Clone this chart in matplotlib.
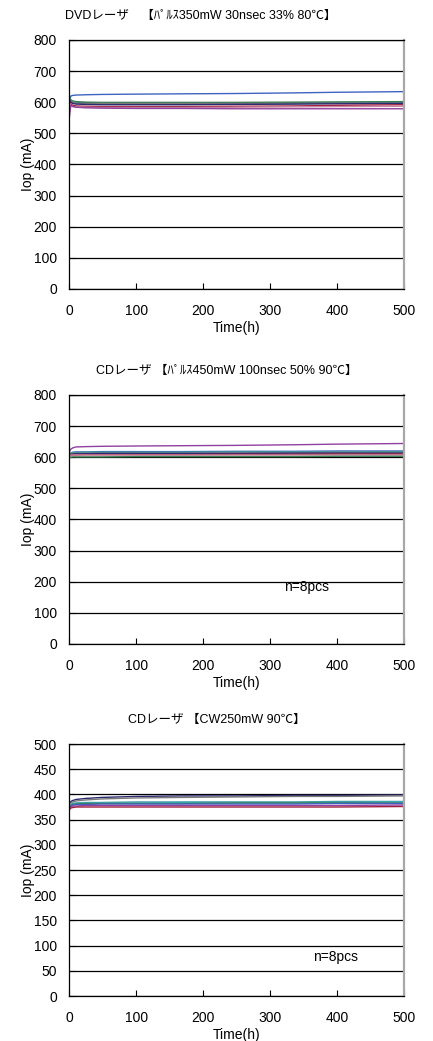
import numpy as np
import matplotlib
matplotlib.use("Agg")
import matplotlib.pyplot as plt

plt.rcParams['font.family'] = ['Liberation Sans', 'Noto Sans CJK JP', 'DejaVu Sans']

# time points (h)
hours = [0, 2, 5, 10, 24, 48, 100, 168, 250, 336, 400, 500]

# DVD laser, pulse 350mW
dvd_blue   = [605, 620, 622, 623, 624, 625, 626, 627, 628, 630, 632, 634]
dvd_green  = [615, 608, 604, 602, 600, 599, 599, 599, 599, 600, 601, 602]
dvd_teal   = [612, 605, 600, 598, 596, 595, 595, 595, 595, 596, 597, 598]
dvd_gray   = [610, 604, 599, 597, 596, 596, 596, 596, 596, 596, 597, 597]
dvd_navy   = [608, 600, 596, 594, 593, 592, 592, 592, 593, 594, 595, 596]
dvd_maroon = [600, 594, 590, 588, 587, 586, 586, 586, 587, 588, 590, 592]
dvd_pink   = [598, 590, 586, 585, 584, 583, 583, 583, 584, 585, 586, 587]
dvd_purple = [555, 590, 586, 584, 582, 581, 580, 580, 579, 579, 579, 579]

# CD laser, pulse 450mW
cdp_purple = [618, 626, 630, 633, 634, 635, 636, 637, 638, 640, 642, 644]
cdp_blue   = [610, 614, 616, 617, 617, 618, 618, 618, 619, 619, 620, 620]
cdp_teal   = [612, 614, 615, 615, 616, 616, 616, 616, 617, 617, 617, 618]
cdp_gray   = [608, 611, 612, 612, 613, 613, 613, 613, 614, 614, 615, 615]
cdp_navy   = [606, 609, 610, 611, 611, 612, 612, 612, 612, 613, 613, 613]
cdp_maroon = [604, 606, 607, 607, 608, 608, 608, 608, 609, 609, 610, 610]
cdp_pink   = [605, 607, 607, 607, 607, 607, 607, 607, 607, 607, 607, 607]
cdp_green  = [598, 600, 601, 601, 601, 601, 602, 602, 602, 602, 603, 603]

# CD laser, CW 250mW
cw_navy   = [383, 386, 388, 390, 392, 394, 396, 397, 397, 398, 398, 399]
cw_gray   = [380, 383, 385, 387, 389, 391, 393, 394, 395, 396, 396, 397]
cw_teal   = [376, 380, 382, 383, 384, 384, 385, 385, 385, 385, 386, 386]
cw_cyan   = [376, 379, 381, 382, 383, 383, 383, 384, 384, 384, 384, 385]
cw_green  = [375, 378, 380, 381, 382, 382, 382, 382, 383, 383, 383, 383]
cw_blue   = [375, 377, 379, 380, 380, 381, 381, 381, 381, 381, 382, 382]
cw_purple = [372, 375, 377, 377, 378, 378, 378, 378, 378, 378, 378, 379]
cw_maroon = [370, 373, 374, 375, 375, 375, 375, 375, 375, 375, 375, 376]

titles = ["DVDレーザ　【ﾊﾟﾙｽ350mW 30nsec 33% 80℃】",
          "CDレーザ 【ﾊﾟﾙｽ450mW 100nsec 50% 90℃】",
          "CDレーザ 【CW250mW 90℃】"]

col = {'blue': '#3f63c0', 'green': '#3a8050', 'teal': '#3a9a9a', 'gray': '#7a7a7a',
       'navy': '#2a2a70', 'maroon': '#a02040', 'pink': '#c886a0', 'purple': '#9040a0',
       'cyan': '#40b0c0'}

panels = [
    dict(series=[('blue', dvd_blue), ('green', dvd_green), ('teal', dvd_teal), ('gray', dvd_gray),
                 ('navy', dvd_navy), ('maroon', dvd_maroon), ('pink', dvd_pink), ('purple', dvd_purple)],
         ymax=800, ystep=100, pos=[0.1605, 0.7224, 0.7725, 0.2392], title_x=201, note=None),
    dict(series=[('purple', cdp_purple), ('blue', cdp_blue), ('teal', cdp_teal), ('gray', cdp_gray),
                 ('navy', cdp_navy), ('maroon', cdp_maroon), ('pink', cdp_pink), ('green', cdp_green)],
         ymax=800, ystep=100, pos=[0.1605, 0.3814, 0.7725, 0.2392], title_x=227, note=(355, 183)),
    dict(series=[('navy', cw_navy), ('gray', cw_gray), ('teal', cw_teal), ('cyan', cw_cyan),
                 ('green', cw_green), ('blue', cw_blue), ('purple', cw_purple), ('maroon', cw_maroon)],
         ymax=500, ystep=50, pos=[0.1605, 0.0432, 0.7725, 0.2421], title_x=217, note=(398, 78)),
]

fig = plt.figure(figsize=(4.33, 10.41), dpi=100)

for i, p in enumerate(panels):
    ax = fig.add_axes(p['pos'])
    for c, vals in p['series']:
        ax.plot(hours, vals, color=col[c], lw=1.0)
    ax.set_xlim(0, 500)
    ax.set_ylim(0, p['ymax'])
    ax.set_xticks(np.arange(0, 501, 100))
    ax.set_yticks(np.arange(0, p['ymax'] + 1, p['ystep']))
    ax.grid(axis='y', color='black', lw=0.9)
    ax.set_axisbelow(True)
    ax.tick_params(direction='in', length=4, width=0.8, labelsize=10)
    ax.tick_params(axis='x', pad=11)
    ax.tick_params(axis='y', pad=9)
    ax.spines['right'].set_color('#a8a8a8')
    ax.spines['right'].set_linewidth(1.6)
    ax.spines['top'].set_linewidth(0.9)
    ax.spines['left'].set_linewidth(0.9)
    ax.spines['bottom'].set_linewidth(0.9)
    ax.set_xlabel('Time(h)', fontsize=10, labelpad=2)
    ax.set_ylabel('Iop (mA)', fontsize=10, labelpad=-1)
    # title sits left of the axes centre, as in the source
    top_px = (1 - p['pos'][1] - p['pos'][3]) * 1041
    fig.text(p['title_x'] / 433, 1 - (top_px - 24) / 1041, titles[i],
             ha='center', va='center', fontsize=9)
    if p['note']:
        ax.text(p['note'][0], p['note'][1], 'n=8pcs', ha='center', va='center', fontsize=10)

fig.savefig('out.png', dpi=100)
